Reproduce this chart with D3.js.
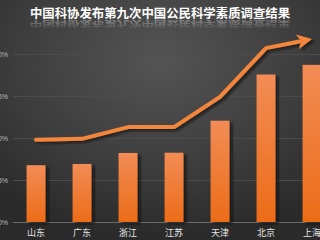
<!DOCTYPE html>
<html>
<head>
<meta charset="utf-8">
<script src="https://cdn.jsdelivr.net/npm/d3@7"></script>
<style>
  body { margin: 0; background: #333; overflow: hidden; }
  svg { display: block; }
</style>
</head>
<body>
<div id="chart"></div>
<script>
// data
var provinces = ["山东", "广东", "浙江", "江苏", "天津", "北京", "上海"];
var rates = [6.76, 6.91, 8.22, 8.25, 12.06, 17.56, 18.71];
var trend = [9.8, 9.9, 11.3, 11.3, 14.9, 20.7, 21.8];
var yTicks = [0, 5, 10, 15, 20];
var title = "中国科协发布第九次中国公民科学素质调查结果";

var svgWidth = 320;
var svgHeight = 240;

var svg = d3.select("#chart")
  .append("svg")
  .attr("width", svgWidth)
  .attr("height", svgHeight);

var defs = svg.append("defs");

// background gradient
var bg = defs.append("radialGradient")
  .attr("id", "bg")
  .attr("cx", "50%").attr("cy", "25%").attr("r", "75%");
bg.append("stop").attr("offset", "0%").attr("stop-color", "#545454");
bg.append("stop").attr("offset", "60%").attr("stop-color", "#3d3d3d");
bg.append("stop").attr("offset", "100%").attr("stop-color", "#2a2a2a");

var barGrad = defs.append("linearGradient")
  .attr("id", "barGrad")
  .attr("x1", 0).attr("y1", 0).attr("x2", 0).attr("y2", 1);
barGrad.append("stop").attr("offset", "0%").attr("stop-color", "#f28c55");
barGrad.append("stop").attr("offset", "100%").attr("stop-color", "#ec6c18");

var shadow = defs.append("filter")
  .attr("id", "shadow")
  .attr("x", "-20%").attr("y", "-20%").attr("width", "160%").attr("height", "160%");
shadow.append("feDropShadow")
  .attr("dx", 3).attr("dy", 2).attr("stdDeviation", 1.2)
  .attr("flood-color", "#111").attr("flood-opacity", 0.7);

// reflection fades out going down (local top = picture bottom after the flip)
var reflGrad = defs.append("linearGradient")
  .attr("id", "reflGrad")
  .attr("x1", 0).attr("y1", 0).attr("x2", 0).attr("y2", 1);
reflGrad.append("stop").attr("offset", "0%").attr("stop-color", "#fff").attr("stop-opacity", 0);
reflGrad.append("stop").attr("offset", "100%").attr("stop-color", "#fff").attr("stop-opacity", 0.4);

svg.append("rect")
  .attr("width", svgWidth)
  .attr("height", svgHeight)
  .attr("fill", "url(#bg)");

// scales
var xScale = d3.scaleBand()
  .domain(provinces)
  .range([13, 335])
  .paddingInner(0.59)
  .paddingOuter(0.295);

var yScale = d3.scaleLinear()
  .domain([0, 20])
  .range([222, 54]);

// gridlines + y labels
var yAxis = svg.append("g")
  .attr("transform", "translate(13,0)")
  .call(d3.axisLeft(yScale).tickValues(yTicks).tickSize(-320).tickFormat(d => d + "%"));
yAxis.select(".domain").remove();
yAxis.selectAll(".tick line")
  .attr("stroke", d => d === 0 ? "#6a6a6a" : "#4c4c4c")
  .attr("stroke-width", 1);
yAxis.selectAll(".tick text")
  .attr("x", -5)
  .attr("fill", "#bbb")
  .attr("font-family", "Arial, 'Liberation Sans', sans-serif")
  .attr("font-size", 7);

// bars
svg.append("g").selectAll("rect")
  .data(rates)
  .enter()
  .append("rect")
  .attr("x", (d, i) => xScale(provinces[i]))
  .attr("y", d => yScale(d))
  .attr("width", xScale.bandwidth())
  .attr("height", d => yScale(0) - yScale(d))
  .attr("fill", "url(#barGrad)")
  .attr("filter", "url(#shadow)");

// category labels
svg.append("g").selectAll("text")
  .data(provinces)
  .enter()
  .append("text")
  .attr("x", d => xScale(d) + xScale.bandwidth() / 2)
  .attr("y", 236)
  .attr("text-anchor", "middle")
  .attr("fill", "#e6e6e6")
  .attr("font-family", "'Noto Sans CJK SC', sans-serif")
  .attr("font-size", 9)
  .text(d => d);

// trend arrow
var pts = trend.map((d, i) => [xScale(provinces[i]) + xScale.bandwidth() / 2, yScale(d)]);
var last = pts[pts.length - 1];
var prev = pts[pts.length - 2];
var ang = Math.atan2(last[1] - prev[1], last[0] - prev[0]);
var headLen = 15;
var shaftEnd = [last[0] - Math.cos(ang) * (headLen - 2), last[1] - Math.sin(ang) * (headLen - 2)];
var linePts = pts.slice(0, -1).concat([shaftEnd]);

var arrow = svg.append("g").attr("filter", "url(#shadow)");
arrow.append("path")
  .attr("d", d3.line()(linePts))
  .attr("fill", "none")
  .attr("stroke", "#f3863c")
  .attr("stroke-width", 4)
  .attr("stroke-linejoin", "round")
  .attr("stroke-linecap", "round");

var perp = ang + Math.PI / 2;
var base = [last[0] - Math.cos(ang) * headLen, last[1] - Math.sin(ang) * headLen];
var w = 7.5;
var head = [
  last,
  [base[0] + Math.cos(perp) * w, base[1] + Math.sin(perp) * w],
  [base[0] + Math.cos(ang) * 4, base[1] + Math.sin(ang) * 4],
  [base[0] - Math.cos(perp) * w, base[1] - Math.sin(perp) * w]
];
arrow.append("path")
  .attr("d", d3.line()(head) + "Z")
  .attr("fill", "#f3863c");

// title + reflection
svg.append("text")
  .attr("x", 160)
  .attr("y", 18)
  .attr("text-anchor", "middle")
  .attr("fill", "#fff")
  .attr("font-family", "'Noto Sans CJK SC', sans-serif")
  .attr("font-weight", "bold")
  .attr("font-size", 12.4)
  .text(title);

svg.append("g")
  .attr("transform", "translate(0,21) scale(1,-0.6)")
  .append("text")
  .attr("x", 160)
  .attr("y", 0)
  .attr("text-anchor", "middle")
  .attr("fill", "url(#reflGrad)")
  .attr("font-family", "'Noto Sans CJK SC', sans-serif")
  .attr("font-weight", "bold")
  .attr("font-size", 12.4)
  .text(title);
</script>
</body>
</html>
